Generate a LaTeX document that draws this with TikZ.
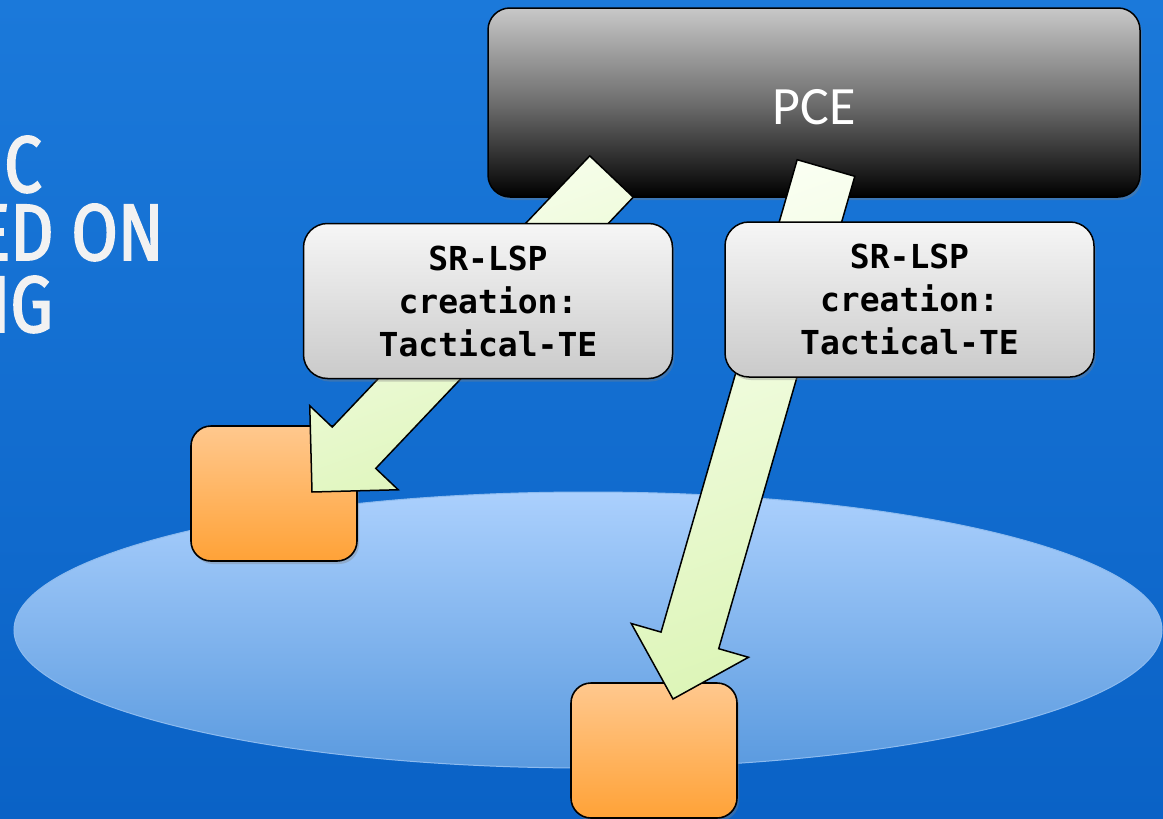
\documentclass[tikz,border=0pt]{standalone}
\usepackage{fontspec}
\setmainfont{Carlito}
\newfontfamily\headfont{Fira Sans}[FakeStretch=0.84,FakeBold=2.2]
\newfontfamily\codefont{DejaVu Sans Mono}
\usetikzlibrary{calc,shadows}

\definecolor{bgtop}{HTML}{1B79DA}
\definecolor{bgbot}{HTML}{0A62C6}
\definecolor{pcetop}{HTML}{C8C8C8}
\definecolor{pcemid}{HTML}{6E6E6E}
\definecolor{lbltop}{HTML}{F6F6F6}
\definecolor{lblbot}{HTML}{CACACA}
\definecolor{nettop}{HTML}{ABD0FD}
\definecolor{netbot}{HTML}{5A9ADF}
\definecolor{netline}{HTML}{8DBBEF}
\definecolor{routop}{HTML}{FFC88E}
\definecolor{roubot}{HTML}{FFA237}
\definecolor{arrlight}{HTML}{FAFFF2}
\definecolor{arrdark}{HTML}{DDF5B8}
\definecolor{headtxt}{HTML}{F2F2F2}

\tikzset{
  softshadow/.style={drop shadow={opacity=0.35,shadow xshift=2pt,shadow yshift=-3pt}},
  pcebox/.style={draw=black,line width=1.5pt,rounded corners=22pt,
    top color=pcetop,bottom color=black,middle color=pcemid,
    minimum width=652pt,minimum height=189pt,text=white,
    font=\fontsize{54}{56}\selectfont,softshadow},
  lspbox/.style={draw=black,line width=1.5pt,rounded corners=24pt,
    top color=lbltop,bottom color=lblbot,
    minimum width=369pt,minimum height=155pt,align=center,
    font=\codefont\bfseries\fontsize{33}{43}\selectfont,softshadow},
  router/.style={draw=black,line width=1.6pt,rounded corners=20pt,
    top color=routop,bottom color=roubot,
    minimum width=166pt,minimum height=135pt,softshadow},
  headline/.style={inner sep=0pt,anchor=base east,text=headtxt,
    font=\headfont\fontsize{80}{80}\selectfont},
  barrow/.style={draw=black,line width=1.5pt,line join=miter,
    left color=arrlight,right color=arrdark,shading angle=20},
}

% block arrow from a tail coordinate to a tip coordinate
\newcommand{\blockarrow}[2]{%
  \coordinate (neck) at ($(#2)!61pt!(#1)$);
  \draw[barrow] ($(#1)!30pt!90:(#2)$) -- ($(neck)!30pt!90:(#2)$)
    -- ($(neck)!61pt!90:(#2)$) -- (#2) -- ($(neck)!61pt!-90:(#2)$)
    -- ($(neck)!30pt!-90:(#2)$) -- ($(#1)!30pt!-90:(#2)$) -- cycle;}

\begin{document}
\begin{tikzpicture}[x=1pt,y=-1pt]
  % background
  \shade[top color=bgtop,bottom color=bgbot] (0,0) rectangle (1163,819);
  \useasboundingbox (0,0) rectangle (1163,819);

  % heading fragments
  \node[headline] (h1) at (42,192) {C};
  \node[headline] (h2) at (164,260) {ED ON};
  \node[headline] (h3) at (53,332) {IG};

  % network cloud
  \shade[top color=nettop,bottom color=netbot,draw=netline,line width=1pt]
    (588,630) ellipse [x radius=574pt,y radius=138pt];

  % controller
  \node[pcebox] (pce) at (814,102.5) {\raisebox{-22pt}[0pt][0pt]{PCE}};

  % routers
  \node[router] (r1) at (274,493.5) {};
  \node[router] (r2) at (654,750.5) {};

  % LSP creation arrows
  \coordinate (t1) at (611.5,176.5);
  \coordinate (p1) at (312,492);
  \coordinate (t2) at (826,168);
  \coordinate (p2) at (673,699);
  \blockarrow{t1}{p1}
  \blockarrow{t2}{p2}

  % labels
  \node[lspbox] (l1) at (488,301) {SR-LSP\\creation:\\Tactical-TE};
  \node[lspbox] (l2) at (909.5,299.5) {SR-LSP\\creation:\\Tactical-TE};
\end{tikzpicture}
\end{document}
